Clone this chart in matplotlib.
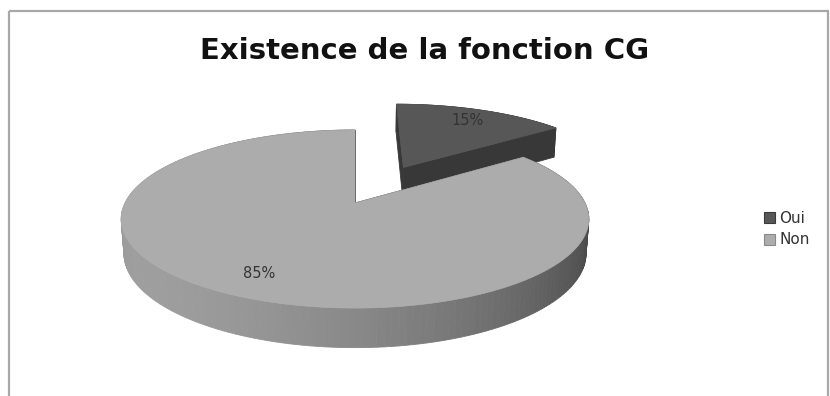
import numpy as np
import matplotlib
matplotlib.use("Agg")
import matplotlib.pyplot as plt
from matplotlib.patches import Polygon, Rectangle, Patch

# ---- data ----
title = "Existence de la fonction CG"
categories = ["Oui", "Non"]
values = [15, 85]
explode = [0.5, 0.0]

# ---- style ----
top_colors = ["#575757", "#acacac"]
legend_edges = ["#3a3a3a", "#8a8a8a"]
oui_side = "#383838"

W, H = 830, 396
fig = plt.figure(figsize=(8.3, 3.96), dpi=100)
ax = fig.add_axes([0, 0, 1, 1])
ax.set_xlim(0, W)
ax.set_ylim(H, 0)
ax.axis("off")

# perspective projection of a flat disc (radius 1, thickness T)
phi = np.radians(22)
D = 5.15
K = 230
X0, Y0 = 355, 203
T = 0.16


def proj(x, z, y=0.0):
    up = z * np.sin(phi) + y * np.cos(phi)
    depth = z * np.cos(phi) - y * np.sin(phi)
    s = D / (D + depth)
    return X0 + K * x * s, Y0 - K * up * s


def shade(theta_deg):
    v = 0.42 + 0.2 * np.cos(np.radians(theta_deg - 215))
    v = float(np.clip(v, 0, 1))
    return (v, v, v)


total = float(sum(values))
start = 90.0
slices = []
for i, v in enumerate(values):
    sweep = 360.0 * v / total
    t0, t1 = start, start - sweep
    slices.append((t0, t1))
    start = t1


def draw_slice(i, zbase):
    t0, t1 = slices[i]
    tm = np.radians((t0 + t1) / 2)
    ox, oz = explode[i] * np.cos(tm), explode[i] * np.sin(tm)
    th = np.linspace(t0, t1, 200)
    xs = ox + np.cos(np.radians(th))
    zs = oz + np.sin(np.radians(th))
    walls = []
    for j in range(len(th) - 1):
        a = proj(xs[j], zs[j]); b = proj(xs[j + 1], zs[j + 1])
        c = proj(xs[j + 1], zs[j + 1], -T); d = proj(xs[j], zs[j], -T)
        col = oui_side if i == 0 else shade((th[j] + th[j + 1]) / 2)
        depth = (zs[j] + zs[j + 1]) / 2
        walls.append((depth, [a, b, c, d], col))
    for tt in (t0, t1):
        ex = ox + np.cos(np.radians(tt)); ez = oz + np.sin(np.radians(tt))
        quad = [proj(ox, oz), proj(ex, ez), proj(ex, ez, -T), proj(ox, oz, -T)]
        col = oui_side if i == 0 else shade(tt)
        walls.append(((oz + ez) / 2, quad, col))
    walls.sort(key=lambda w: -w[0])
    for k, (dep, quad, col) in enumerate(walls):
        ax.add_patch(Polygon(quad, closed=True, facecolor=col, edgecolor=col,
                             lw=0.6, zorder=zbase + k * 1e-4))
    pts = [proj(ox, oz)] + [proj(x, z) for x, z in zip(xs, zs)]
    ax.add_patch(Polygon(pts, closed=True, facecolor=top_colors[i],
                         edgecolor=top_colors[i], lw=0.5, zorder=zbase + 0.5))
    lx, lz = ox + 0.8 * np.cos(tm), oz + 0.8 * np.sin(tm)
    px, py = proj(lx, lz)
    ax.text(px, py, f"{values[i]}%", ha="center", va="center", fontsize=10.5,
            color="#333333", family="DejaVu Sans", zorder=zbase + 0.9)


draw_slice(0, 2)
draw_slice(1, 3)

# title
ax.text(425, 59, title, ha="center", va="baseline", fontsize=21,
        fontweight="bold", family="DejaVu Sans", color="#111111", zorder=5)

# border of chart area
ax.add_patch(Rectangle((9, 11), 819, 420, fill=False, edgecolor="#a8a8a8",
                       lw=1.6, zorder=6, clip_on=False))

handles = [Patch(facecolor=top_colors[i], edgecolor=legend_edges[i], lw=0.8)
           for i in range(len(categories))]
leg = fig.legend(handles, categories, loc="center left",
                 bbox_to_anchor=(750 / W, 1 - 229 / H), frameon=False,
                 handlelength=0.75, handleheight=0.75, handletextpad=0.25,
                 labelspacing=0.45, prop={"family": "DejaVu Sans", "size": 11})
for t in leg.get_texts():
    t.set_color("#333333")

fig.savefig("out.png", dpi=100)
